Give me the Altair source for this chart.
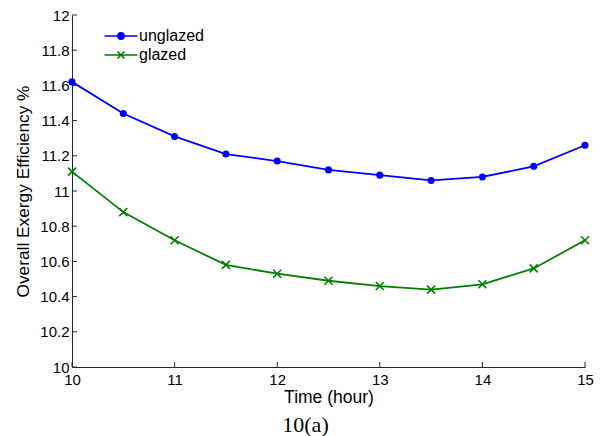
import altair as alt
import pandas as pd

hours = [10, 10.5, 11, 11.5, 12, 12.5, 13, 13.5, 14, 14.5, 15]
unglazed = [11.62, 11.44, 11.31, 11.21, 11.17, 11.12, 11.09, 11.06, 11.08, 11.14, 11.26]
glazed = [11.11, 10.88, 10.72, 10.58, 10.53, 10.49, 10.46, 10.44, 10.47, 10.56, 10.72]
series_names = ["unglazed", "glazed"]
series_colors = ["#0000ff", "#008000"]
x_ticks = [10, 11, 12, 13, 14, 15]
y_ticks = [10, 10.2, 10.4, 10.6, 10.8, 11, 11.2, 11.4, 11.6, 11.8, 12]

W, H = 513, 352
AX = "#262626"
FONT = "Liberation Sans"

df = pd.DataFrame({
    "hour": hours * 2,
    "value": unglazed + glazed,
    "series": ["unglazed"] * len(hours) + ["glazed"] * len(hours),
})

xs = alt.Scale(domain=[10, 15], nice=False, zero=False)
ys = alt.Scale(domain=[10, 12], nice=False, zero=False)

x_enc = alt.X("hour:Q", scale=xs, axis=alt.Axis(
    title="Time (hour)", values=x_ticks, format="~f", tickSize=0, labelPadding=5,
    labelFlush=False, labelOverlap=False, grid=False, domainColor=AX, domainWidth=1,
    labelFont=FONT, labelFontSize=15, labelColor="black",
    titleFont=FONT, titleFontSize=17.5, titleFontWeight="normal", titleColor="black",
    titlePadding=1))
y_enc = alt.Y("value:Q", scale=ys, axis=alt.Axis(
    title="Overall Exergy Efficiency %", values=y_ticks, format=".1~f", tickSize=0,
    labelPadding=3, labelFlush=False, labelOverlap=False, grid=False,
    domainColor=AX, domainWidth=1,
    labelFont=FONT, labelFontSize=15, labelColor="black",
    titleFont=FONT, titleFontSize=17.3, titleFontWeight="normal", titleColor="black",
    titlePadding=7))

base = alt.Chart(df)
b_u = base.transform_filter(alt.datum.series == "unglazed")
b_g = base.transform_filter(alt.datum.series == "glazed")

line_u = b_u.mark_line(strokeWidth=1.8, color=series_colors[0]).encode(x=x_enc, y=y_enc)
line_g = b_g.mark_line(strokeWidth=1.8, color=series_colors[1]).encode(x=x_enc, y=y_enc)

pts_u = b_u.mark_circle(size=50, color=series_colors[0], opacity=1).encode(x=x_enc, y=y_enc)
pts_g = b_g.mark_point(
    shape="M-1,-1L1,1M-1,1L1,-1", size=64, stroke=series_colors[1], strokeWidth=1.6,
    filled=False, opacity=1).encode(x=x_enc, y=y_enc)

leg_circle = "M-3.3,0L3.3,0M-0.62,0A0.62,0.62,0,1,1,0.62,0A0.62,0.62,0,1,1,-0.62,0Z"
leg_cross = "M-3.3,0L3.3,0M-0.7,-0.7L0.7,0.7M-0.7,0.7L0.7,-0.7"

legend_def = alt.Legend(
    title=None, orient="none", legendX=41, legendY=13, padding=0,
    labelFont=FONT, labelFontSize=16, labelColor="black",
    symbolSize=100, symbolStrokeWidth=1.6, labelOffset=10, rowPadding=3,
    symbolOffset=0, symbolOpacity=1)

legend_layer = base.mark_point(opacity=0).encode(
    x=x_enc, y=y_enc,
    shape=alt.Shape("series:N", scale=alt.Scale(domain=series_names, range=[leg_circle, leg_cross]), legend=legend_def),
    stroke=alt.Stroke("series:N", scale=alt.Scale(domain=series_names, range=series_colors), legend=legend_def),
    fill=alt.Fill("series:N", scale=alt.Scale(domain=series_names, range=series_colors), legend=legend_def),
)

yt = alt.Chart(pd.DataFrame({"value": y_ticks})).mark_rule(color=AX, strokeWidth=1).encode(
    y=y_enc, x=alt.value(0), x2=alt.value(5))
xt = alt.Chart(pd.DataFrame({"hour": x_ticks})).mark_rule(color=AX, strokeWidth=1).encode(
    x=x_enc, y=alt.value(H), y2=alt.value(H - 5))

chart = alt.layer(line_u, line_g, yt, xt, pts_u, pts_g, legend_layer).properties(
    width=W, height=H,
    title=alt.TitleParams(text="10(a)", orient="bottom", font="Liberation Serif", fontSize=22,
                          fontWeight="normal", color="black", offset=9, dx=-23),
    padding={"left": 72, "top": 15, "right": 16, "bottom": 69},
    autosize=alt.AutoSizeParams(type="none"),
    background="white",
).configure_view(stroke=None)

chart.save("out.html", embed_options={"renderer": "svg", "actions": False})
